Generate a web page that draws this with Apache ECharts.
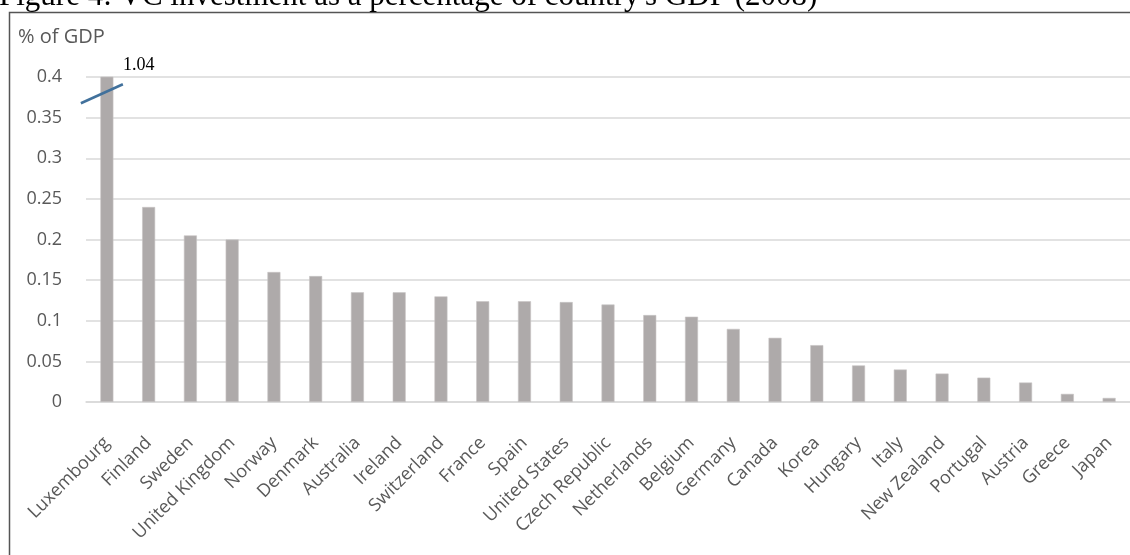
<!DOCTYPE html>
<html>
<head>
<meta charset="utf-8">
<title>VC investment as a percentage of GDP (2008)</title>
<script src="https://cdn.jsdelivr.net/npm/echarts@6/dist/echarts.min.js"></script>
<style>
  html, body { margin: 0; padding: 0; background: #ffffff; }
  #chart { width: 1130px; height: 555px; }
</style>
</head>
<body>
<div id="chart"></div>
<script>
// Countries, sorted by VC investment share
const countries = [
  'Luxembourg', 'Finland', 'Sweden', 'United Kingdom', 'Norway', 'Denmark',
  'Australia', 'Ireland', 'Switzerland', 'France', 'Spain', 'United States',
  'Czech Republic', 'Netherlands', 'Belgium', 'Germany', 'Canada', 'Korea',
  'Hungary', 'Italy', 'New Zealand', 'Portugal', 'Austria', 'Greece', 'Japan'
];

// VC investment, % of GDP
const vcShare = [
  1.04, 0.24, 0.205, 0.2, 0.16, 0.155,
  0.135, 0.135, 0.13, 0.124, 0.124, 0.123,
  0.12, 0.107, 0.105, 0.09, 0.079, 0.07,
  0.045, 0.04, 0.035, 0.03, 0.024, 0.01, 0.005
];

// Value axis
const axisMax = 0.4;
const axisStep = 0.05;

// Bars above the axis top are cut off and get a break marker
const breakLevel = 0.38;
const overflow = vcShare
  .map((v, i) => [i, v])
  .filter(d => d[1] > axisMax);

const labelColor = '#595959';
const chart = echarts.init(document.getElementById('chart'), null, { renderer: 'canvas' });

chart.setOption({
  animation: false,
  backgroundColor: '#ffffff',
  grid: { left: 86, top: 77, width: 1045, bottom: 153, containLabel: false },
  graphic: [
    {
      type: 'rect',
      shape: { x: 9.5, y: 12.5, width: 1300, height: 700 },
      style: { fill: 'none', stroke: '#555555', lineWidth: 1.5 },
      z: 0
    },
    {
      type: 'text',
      z: 100,
      style: {
        x: -1, y: -3,
        text: "Figure 4: VC investment as a percentage of country's GDP (2008)",
        font: '31px "Liberation Serif", "Times New Roman", serif',
        fill: '#000000',
        verticalAlign: 'middle'
      }
    },
    {
      type: 'text',
      style: {
        x: 18, y: 37,
        text: '% of GDP',
        font: '20px "Open Sans", sans-serif',
        fill: labelColor,
        verticalAlign: 'middle'
      }
    }
  ],
  xAxis: {
    type: 'category',
    data: countries,
    axisLine: { show: true, lineStyle: { color: '#d9d9d9', width: 1.5 } },
    axisTick: { show: false },
    axisLabel: {
      interval: 0,
      rotate: 45,
      margin: 38,
      color: labelColor,
      fontFamily: 'Open Sans',
      fontSize: 18
    }
  },
  yAxis: {
    type: 'value',
    min: 0,
    max: axisMax,
    interval: axisStep,
    axisLine: { show: false },
    axisTick: { show: false },
    splitLine: { lineStyle: { color: '#d9d9d9', width: 1.5 } },
    axisLabel: {
      margin: 24,
      color: labelColor,
      fontFamily: 'Open Sans',
      fontSize: 18
    }
  },
  series: [
    {
      type: 'bar',
      data: vcShare,
      barWidth: 13,
      clip: true,
      itemStyle: { color: '#aeaaaa', borderColor: '#c8c5c5', borderWidth: 0.6 }
    },
    {
      // break marker and true value for bars that run past the axis top
      type: 'custom',
      data: overflow,
      clip: false,
      z: 5,
      renderItem: function (params, api) {
        const idx = api.value(0);
        const val = api.value(1);
        const p = api.coord([idx, breakLevel]);
        const top = api.coord([idx, axisMax]);
        return {
          type: 'group',
          children: [
            {
              type: 'line',
              shape: { x1: p[0] - 26, y1: p[1] + 10, x2: p[0] + 16, y2: p[1] - 9 },
              style: { stroke: '#41719c', lineWidth: 2.5 }
            },
            {
              type: 'text',
              style: {
                x: p[0] + 16, y: top[1] - 3,
                text: val.toFixed(2),
                font: '18px "Liberation Serif", "Times New Roman", serif',
                fill: '#000000',
                verticalAlign: 'bottom'
              }
            }
          ]
        };
      }
    }
  ]
});
</script>
</body>
</html>
